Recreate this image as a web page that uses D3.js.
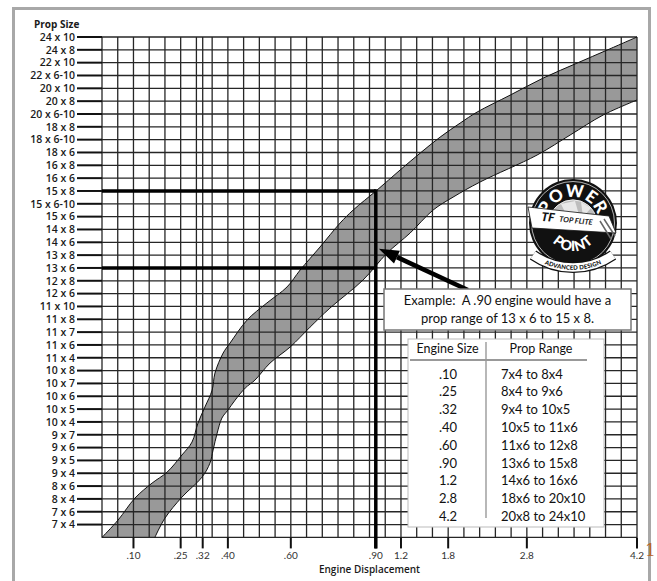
<!DOCTYPE html>
<html><head><meta charset="utf-8">
<script src="https://cdn.jsdelivr.net/npm/d3@7"></script>
<style>body{margin:0;background:#fff} svg{display:block}</style>
</head><body><svg id="c" width="657" height="581"></svg>
<script>
// ---------- data ----------
const propLabels = ["24 x 10","24 x 8","22 x 10","22 x 6-10","20 x 10","20 x 8","20 x 6-10","18 x 8","18 x 6-10","18 x 6","16 x 8","16 x 6","15 x 8","15 x 6-10","15 x 6","14 x 8","14 x 6","13 x 8","13 x 6","12 x 8","12 x 6","11 x 10","11 x 8","11 x 7","11 x 6","11 x 4","10 x 8","10 x 7","10 x 6","10 x 5","10 x 4","9 x 7","9 x 6","9 x 5","9 x 4","8 x 6","8 x 4","7 x 6","7 x 4"];
const xTicks = [0.10,0.25,0.32,0.40,0.60,0.90,1.2,1.8,2.8,4.2];
const xTickLabels = [".10",".25",".32",".40",".60",".90","1.2","1.8","2.8","4.2"];
const engineSizes = [".10",".25",".32",".40",".60",".90","1.2","2.8","4.2"];
const propRanges = ["7x4 to 8x4","8x4 to 9x6","9x4 to 10x5","10x5 to 11x6","11x6 to 12x8","13x6 to 15x8","14x6 to 16x6","18x6 to 20x10","20x8 to 24x10"];
// band edges: [engine displacement, prop rank (0 = "7 x 4" ... 38 = "24 x 10", -1 = bottom edge)]
const bandUpper = [[0.0,-1],[0.051,0.35],[0.105,2.07],[0.159,3.23],[0.207,4.09],[0.254,5.42],[0.286,6.43],[0.305,7.91],[0.327,9.16],[0.35,10.48],[0.359,11.81],[0.385,13.37],[0.407,14.15],[0.461,15.94],[0.524,17.27],[0.588,18.52],[0.633,19.84],[0.703,21.63],[0.774,23.5],[0.82,24.51],[0.915,26.07],[1.189,27.63],[1.444,28.95],[1.698,30.2],[1.952,31.29],[2.168,32.15],[2.588,33.47],[3.008,34.8],[3.44,35.97],[3.82,36.98],[4.2,38]];
const bandLower = [[0.168,-1],[0.2,0.5],[0.254,2.14],[0.318,3.7],[0.343,4.79],[0.353,5.81],[0.366,7.13],[0.381,8.3],[0.40,8.92],[0.423,9.7],[0.455,10.64],[0.486,11.26],[0.534,12.59],[0.598,13.84],[0.668,15.39],[0.738,16.87],[0.855,19.06],[1.035,21.16],[1.316,22.72],[1.608,24.51],[1.862,25.52],[2.206,26.7],[2.93,28.8],[3.35,30.36],[3.77,31.92],[4.2,33.09]];
const exampleEngine = 0.90, exampleLow = "13 x 6", exampleHigh = "15 x 8";
const exampleLines = ["Example:  A .90 engine would have a","prop range of 13 x 6 to 15 x 8."];

(function(){
// ---------- layout ----------
const svg = d3.select("#c");
const L = 102, R = 637, T = 37, B = 537.4, nCols = 34;
const colScale = d3.scaleLinear().domain([0, nCols]).range([L, R]);
const x = d3.scaleLinear().domain([0, 0.6, 0.9, 1.2, 4.2]).range([0, 12, 17.4, 19, 34].map(colScale));
const y = d3.scaleLinear().domain([-1, 38]).range([B, T]);
const rankOf = lab => 38 - propLabels.indexOf(lab);
const FONT = "Lato, 'Open Sans', sans-serif";
const AXF = "'Open Sans', Lato, sans-serif";

// frame
svg.append("rect").attr("x",13.5).attr("y",8.5).attr("width",636).attr("height",600)
  .attr("fill","#fff").attr("stroke","#a8a8a8").attr("stroke-width",3);

// band
const line = d3.line().x(d => x(d[0])).y(d => y(d[1])).curve(d3.curveCatmullRom);
const up = line(bandUpper), lo = line(bandLower.slice().reverse());
svg.append("path").attr("d", up + "L" + lo.slice(1) + "Z").attr("fill","#999");

// grid
const g = svg.append("g").attr("stroke","#262626").attr("stroke-width",1.3);
d3.range(0, nCols + 1).forEach(c => {
  g.append("line").attr("x1",colScale(c)).attr("x2",colScale(c)).attr("y1",T).attr("y2",B);
});
g.append("line").attr("x1",x(0.32)).attr("x2",x(0.32)).attr("y1",T).attr("y2",B);
d3.range(-1, 39).forEach(r => {
  g.append("line").attr("x1",L).attr("x2",R).attr("y1",y(r)).attr("y2",y(r));
});

// band edges
svg.append("path").attr("d", up).attr("fill","none").attr("stroke","#111").attr("stroke-width",1);
svg.append("path").attr("d", line(bandLower)).attr("fill","none").attr("stroke","#111").attr("stroke-width",1);

// y axis
const ya = svg.append("g");
propLabels.forEach((lab, i) => {
  const r = 38 - i;
  ya.append("line").attr("x1",77).attr("x2",L).attr("y1",y(r)).attr("y2",y(r))
    .attr("stroke","#111").attr("stroke-width",2);
  ya.append("text").attr("x",75).attr("y",y(r)+3.8).attr("text-anchor","end")
    .attr("font-family",AXF).attr("font-weight","600").attr("font-size",10.5).attr("fill","#1a1a1a").text(lab);
});
svg.append("text").attr("x",34).attr("y",28).attr("font-family",AXF).attr("font-weight","bold")
  .attr("font-size",10).attr("fill","#1a1a1a").text("Prop Size");

// x axis
const xa = svg.append("g");
xTicks.forEach((v, i) => {
  xa.append("line").attr("x1",x(v)).attr("x2",x(v)).attr("y1",B).attr("y2",B+11)
    .attr("stroke","#111").attr("stroke-width",2);
  xa.append("text").attr("x",x(v)).attr("y",B+22).attr("text-anchor","middle")
    .attr("font-family",FONT).attr("font-size",10).attr("fill","#333").text(xTickLabels[i]);
});
svg.append("text").attr("x",(L+R)/2).attr("y",B+36).attr("text-anchor","middle")
  .attr("font-family",AXF).attr("font-weight","600").attr("font-size",10).attr("fill","#1a1a1a")
  .text("Engine Displacement");

// example reference lines
const ex = x(exampleEngine);
[exampleLow, exampleHigh].forEach(lab => {
  svg.append("line").attr("x1",L).attr("x2",ex).attr("y1",y(rankOf(lab))).attr("y2",y(rankOf(lab)))
    .attr("stroke","#000").attr("stroke-width",3.5);
});
svg.append("line").attr("x1",ex).attr("x2",ex).attr("y1",y(rankOf(exampleHigh))-1.7).attr("y2",B+11)
  .attr("stroke","#000").attr("stroke-width",3.5);

// arrow
const tipX = ex + 3, tipY = y(21.5), tailX = x(2.05), tailY = 290;
const ang = Math.atan2(tailY - tipY, tailX - tipX);
const hl = 20, hw = 7;
const bx = tipX + hl*Math.cos(ang), by = tipY + hl*Math.sin(ang);
svg.append("line").attr("x1",bx).attr("y1",by).attr("x2",tailX).attr("y2",tailY)
  .attr("stroke","#000").attr("stroke-width",4.5);
svg.append("path").attr("d",`M${tipX},${tipY}L${bx - hw*Math.sin(ang)},${by + hw*Math.cos(ang)}L${bx + hw*Math.sin(ang)},${by - hw*Math.cos(ang)}Z`)
  .attr("fill","#000");

// example box
svg.append("rect").attr("x",384).attr("y",289).attr("width",247).attr("height",41)
  .attr("fill","#fff").attr("stroke","#777").attr("stroke-width",1.5);
exampleLines.forEach((t, i) => {
  svg.append("text").attr("x",507.5).attr("y",305 + i*17.5).attr("text-anchor","middle")
    .attr("font-family",FONT).attr("font-size",13).attr("fill","#111").style("white-space","pre").text(t);
});

// table
const tb = svg.append("g");
tb.append("rect").attr("x",408).attr("y",339).attr("width",196).attr("height",188)
  .attr("fill","#fff").attr("stroke","#bbb").attr("stroke-width",1);
tb.append("line").attr("x1",486).attr("x2",486).attr("y1",342).attr("y2",518).attr("stroke","#888").attr("stroke-width",1.2);
tb.append("line").attr("x1",410).attr("x2",587).attr("y1",360).attr("y2",360).attr("stroke","#999").attr("stroke-width",2);
tb.append("text").attr("x",447.5).attr("y",352.5).attr("text-anchor","middle").attr("font-family",FONT)
  .attr("font-size",12.5).attr("fill","#111").text("Engine Size");
tb.append("text").attr("x",541).attr("y",352.5).attr("text-anchor","middle").attr("font-family",FONT)
  .attr("font-size",12.5).attr("fill","#111").text("Prop Range");
engineSizes.forEach((e, i) => {
  const yy = 378.5 + i*17.8;
  tb.append("text").attr("x",448).attr("y",yy).attr("text-anchor","middle").attr("font-family",FONT)
    .attr("font-size",13).attr("fill","#111").text(e);
  tb.append("text").attr("x",501).attr("y",yy).attr("font-family",FONT)
    .attr("font-size",13).attr("fill","#111").text(propRanges[i]);
});

// logo
const defs = svg.append("defs");
defs.append("path").attr("id","arcTop").attr("d","M-26,0A26,26 0 0 1 26,0");
defs.append("path").attr("id","arcBot").attr("d","M-28,0A28,28 0 0 0 28,0");
defs.append("path").attr("id","arcRib").attr("d","M-40,32A70,70 0 0 0 40,32");
const lg = svg.append("g").attr("transform","translate(573,223)");
lg.append("circle").attr("r",44).attr("fill","#111");
lg.append("circle").attr("r",41.5).attr("fill","none").attr("stroke","#ddd").attr("stroke-width",0.8);
lg.append("path").attr("d","M-23.5,-4A24,24 0 0 1 23.5,-4Z").attr("fill","#bdbdbd").attr("stroke","#eee").attr("stroke-width",1);
lg.append("path").attr("d","M-12,-19L2,-22L6,-8L-6,-7Z M8,-21L18,-15L10,-6Z").attr("fill","#e8e8e8");
lg.append("text").attr("font-family",FONT).attr("font-weight","900").attr("font-size",17).attr("fill","#fff")
  .attr("letter-spacing",0.5)
  .append("textPath").attr("href","#arcTop").attr("startOffset","50%").attr("text-anchor","middle").text("POWER");
lg.append("path").attr("d","M-45,-16L36,-7L43,10L-41,5Z").attr("fill","#fff").attr("stroke","#111").attr("stroke-width",0.8);
lg.append("path").attr("d","M27,-2L38,16M31,-4L42,13").attr("stroke","#666").attr("stroke-width",1.5);
lg.append("text").attr("transform","rotate(6) translate(-32,1)").attr("font-family",FONT).attr("font-style","italic")
  .attr("font-weight","900").attr("font-size",12).attr("fill","#111").text("TF");
lg.append("text").attr("transform","rotate(6) translate(-14,0)").attr("font-family",FONT).attr("font-style","italic")
  .attr("font-weight","bold").attr("font-size",7.5).attr("fill","#111").text("TOP FLITE");
lg.append("text").attr("font-family",FONT).attr("font-weight","900").attr("font-size",14).attr("fill","#fff")
  .attr("letter-spacing",0.5)
  .append("textPath").attr("href","#arcBot").attr("startOffset","50%").attr("text-anchor","middle").text("POINT");
lg.append("path").attr("d","M-40,32A70,70 0 0 0 40,32").attr("fill","none").attr("stroke","#111").attr("stroke-width",11);
lg.append("path").attr("d","M-40,32A70,70 0 0 0 40,32").attr("fill","none").attr("stroke","#fff").attr("stroke-width",8.5);
lg.append("text").attr("font-family",FONT).attr("font-weight","900").attr("font-size",6).attr("fill","#111").attr("dy",2.2)
  .append("textPath").attr("href","#arcRib").attr("startOffset","50%").attr("text-anchor","middle").text("ADVANCED DESIGN");

// stray page glyph
svg.append("text").attr("x",645).attr("y",556).attr("font-family","'DejaVu Serif', serif").attr("font-size",17)
  .attr("fill","#b8642a").text("1");
})();
</script></body></html>
